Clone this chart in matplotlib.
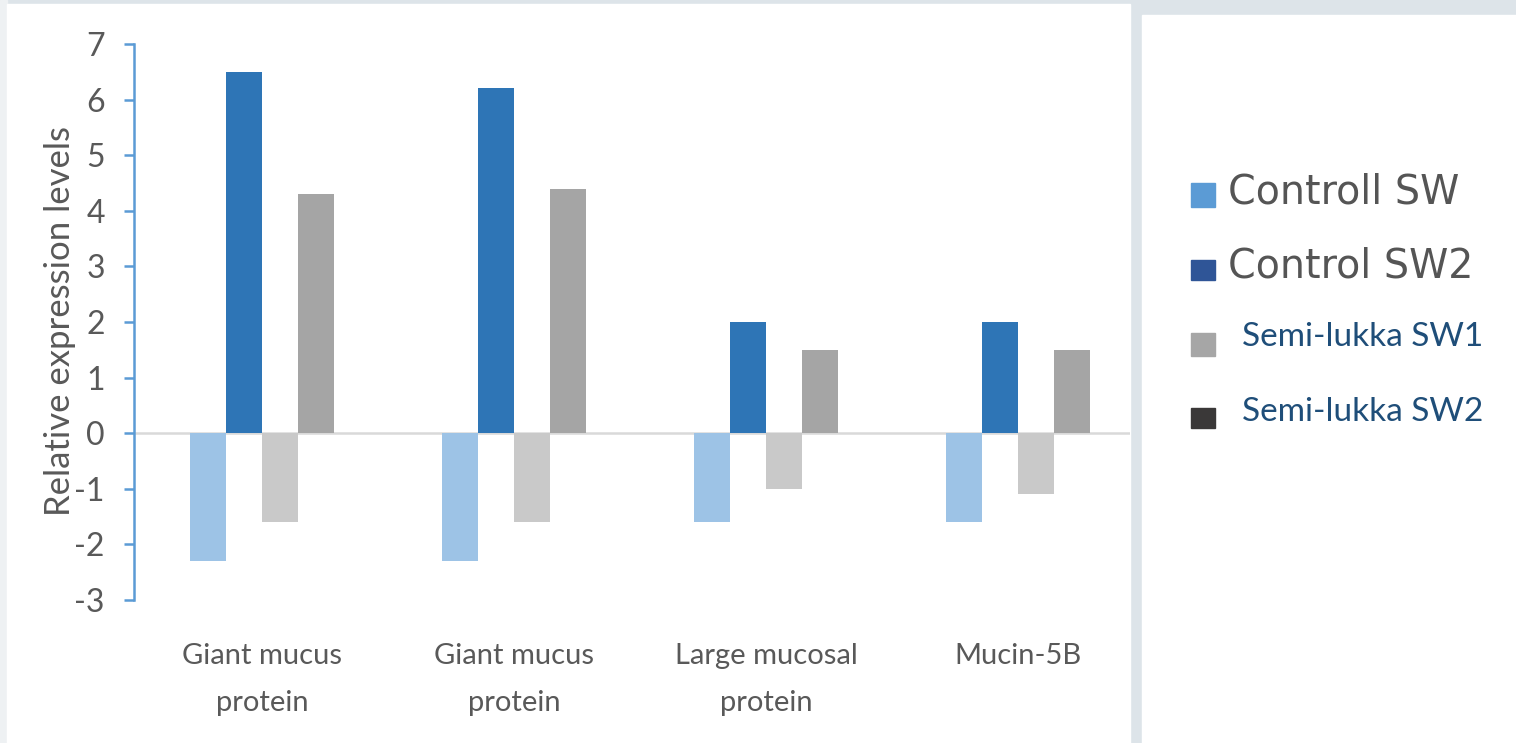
import matplotlib
matplotlib.use("Agg")
import matplotlib.pyplot as plt
from matplotlib.patches import Rectangle
import numpy as np

categories = ["Giant mucus\nprotein", "Giant mucus\nprotein", "Large mucosal\nprotein", "Mucin-5B"]
series_names = ["Controll SW", "Control SW2", "Semi-lukka SW1", "Semi-lukka SW2"]
control_sw1 = [-2.3, -2.3, -1.6, -1.6]
control_sw2 = [6.5, 6.2, 2.0, 2.0]
semi_sw1 = [-1.6, -1.6, -1.0, -1.1]
semi_sw2 = [4.3, 4.4, 1.5, 1.5]
yticks = [-3, -2, -1, 0, 1, 2, 3, 4, 5, 6, 7]

bar_colors = ["#9dc3e6", "#2e75b6", "#c9c9c9", "#a5a5a5"]
legend_colors = ["#5b9bd5", "#2f5597", "#a6a6a6", "#3a3838"]

W, H = 1516, 743
fig = plt.figure(figsize=(W / 100, H / 100), dpi=100)
fig.patch.set_facecolor("#dde4e9")

# white panels
fig.add_artist(Rectangle((0, 0), 7 / W, 1, transform=fig.transFigure, color="#eef1f3", zorder=0))
fig.add_artist(Rectangle((7 / W, 0), (1130 - 7) / W, (H - 4) / H, transform=fig.transFigure,
                         color="white", zorder=0))
fig.add_artist(Rectangle((1142 / W, 0), (W - 1142) / W, (H - 15) / H, transform=fig.transFigure,
                         color="white", zorder=0))

ax = fig.add_axes([134 / W, 143 / H, (1130 - 134) / W, 556 / H])
ax.set_facecolor("none")

x = np.arange(len(categories))
w = 1 / 7
all_series = [control_sw1, control_sw2, semi_sw1, semi_sw2]
for i, (vals, c) in enumerate(zip(all_series, bar_colors)):
    ax.bar(x + (i - 1.5) * w, vals, width=w, color=c, zorder=2)

ax.axhline(0, color="#d9d9d9", lw=1.8, zorder=1)
ax.set_xlim(-0.508, 3.444)
ax.set_ylim(-3, 7)
ax.set_yticks(yticks)
ax.set_yticklabels([str(t) for t in yticks], family="Lato", fontsize=23, color="#595959")
ax.set_xticks(x)
ax.set_xticklabels(categories, family="Lato", fontsize=21, color="#595959", linespacing=2.0)
ax.tick_params(axis="x", length=0, pad=31)
ax.tick_params(axis="y", direction="out", length=7, width=1.8, color="#5b9bd5", pad=14)
for s in ["top", "right", "bottom"]:
    ax.spines[s].set_visible(False)
ax.spines["left"].set_color("#5b9bd5")
ax.spines["left"].set_linewidth(1.8)

fig.text(60 / W, 1 - 321 / H, "Relative expression levels", rotation=90, ha="center", va="center",
         family="Lato", fontsize=25, color="#595959")

# legend
marker_boxes = [(183, 207), (260, 280), (333, 356), (408, 428)]
text_y = [193, 267, 337, 412]
text_x = [1228, 1228, 1242, 1242]
text_colors = ["#555555", "#555555", "#1f4e79", "#1f4e79"]
for i, name in enumerate(series_names):
    y0, y1 = marker_boxes[i]
    fig.add_artist(Rectangle((1191 / W, 1 - y1 / H), 24 / W, (y1 - y0) / H,
                             transform=fig.transFigure, color=legend_colors[i], zorder=3))
    if i < 2:
        fig.text(text_x[i] / W, 1 - text_y[i] / H, name, ha="left", va="center",
                 family="DejaVu Sans", fontsize=28.5, color=text_colors[i])
    else:
        fig.text(text_x[i] / W, 1 - text_y[i] / H, name, ha="left", va="center",
                 family="Lato", fontsize=24, color=text_colors[i])

fig.savefig("out.png", dpi=100, facecolor=fig.get_facecolor())
